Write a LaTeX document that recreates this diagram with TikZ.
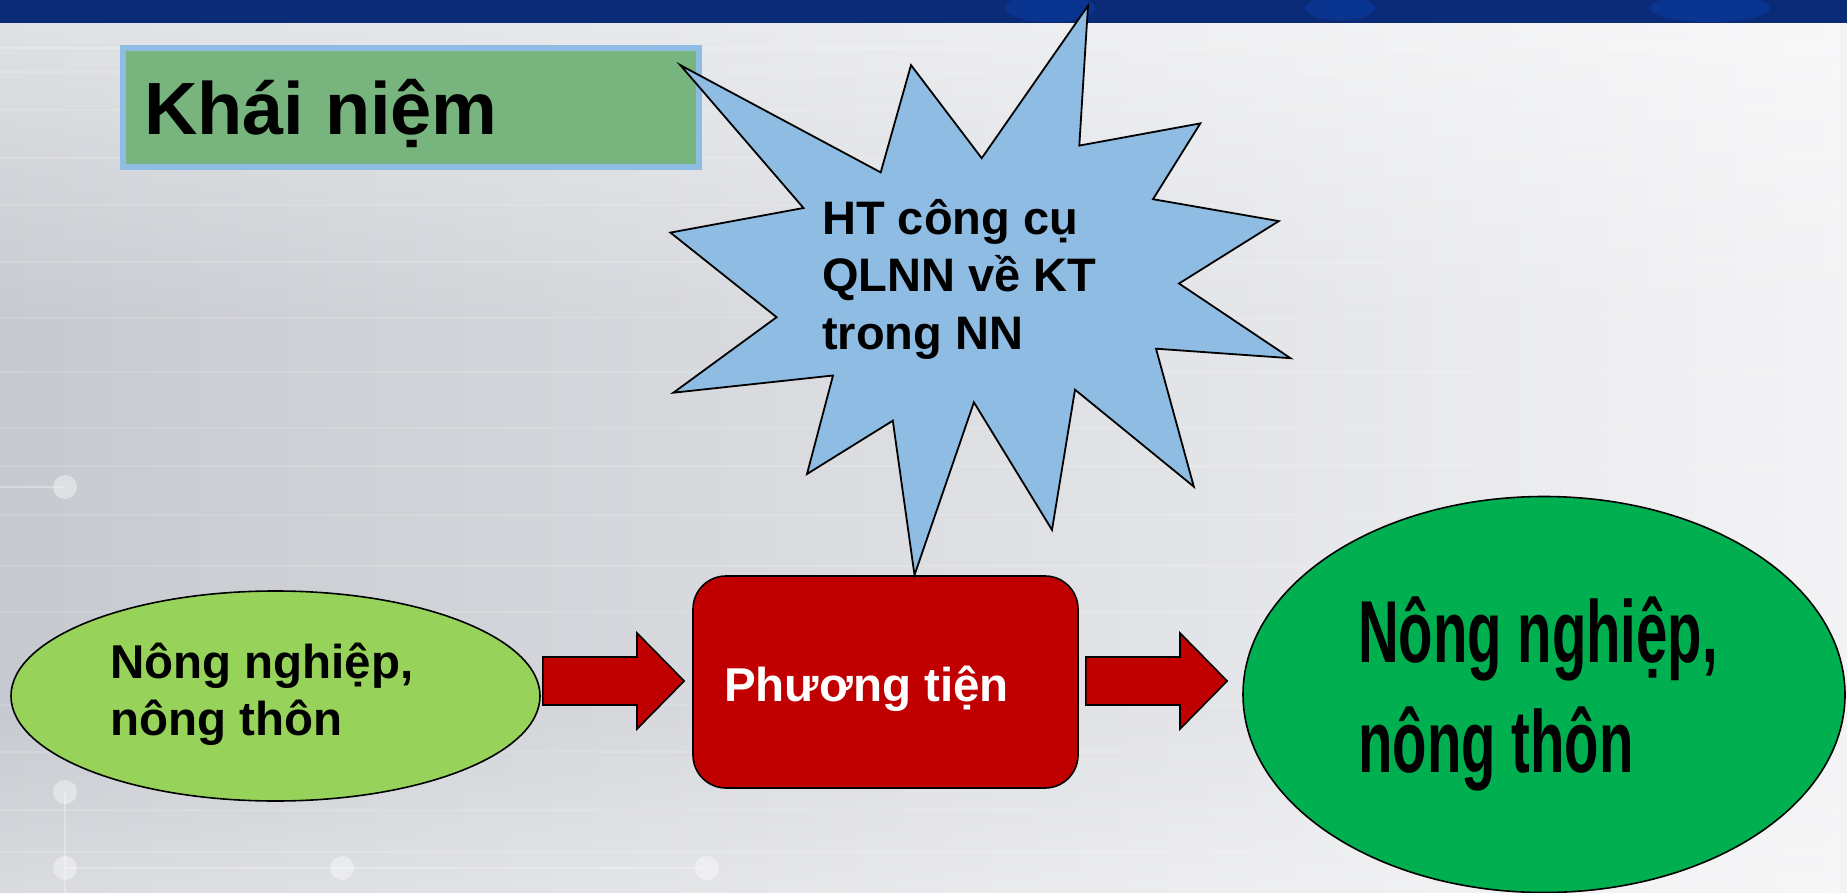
\documentclass[tikz,border=0pt]{standalone}
\usepackage{fontspec}
\setmainfont{Liberation Sans}
\newfontfamily\narrowfont{Liberation Sans}[FakeStretch=0.64]
\usetikzlibrary{shapes.geometric,calc,fadings}
\definecolor{bannerblue}{HTML}{0B2A78}
\definecolor{bgleft}{HTML}{C6C9CF}
\definecolor{bgright}{HTML}{F3F3F5}
\definecolor{starblue}{HTML}{8EBCE2}
\definecolor{titlegreen}{HTML}{78B57E}
\definecolor{titleborder}{HTML}{8EBDE3}
\definecolor{lightgreen}{HTML}{97D35A}
\definecolor{darkgreen}{HTML}{00B050}
\definecolor{boxred}{HTML}{C00000}
\tikzset{
  outline/.style={draw=black, line width=1.6pt},
  blockarrow/.style={outline, fill=boxred, line join=miter},
  txt/.style={inner sep=0pt, anchor=base west, align=left, text=black},
}
\begin{document}
\begin{tikzpicture}[x=1pt, y=-1pt]
\useasboundingbox (0,0) rectangle (1847,893);
% background
\shade[left color=bgleft, right color=bgright] (0,0) rectangle (1847,893);
\fill[white, opacity=0.45, path fading=south] (0,23) rectangle (1847,330);
\fill[white, opacity=0.35, path fading=north] (0,700) rectangle (1847,893);
\foreach \yy/\op in {48/0.2,72/0.15,110/0.12,158/0.15,205/0.12,262/0.15,318/0.12,372/0.15,428/0.12,466/0.15,515/0.12,566/0.15,612/0.12,705/0.12,752/0.15,810/0.12,852/0.15}{
  \draw[white, opacity=\op, line width=2pt] (0,\yy) -- (1847,\yy);
}
% faint decorative dots
\draw[white, opacity=0.3, line width=2pt] (0,487) -- (65,487);
\draw[white, opacity=0.3, line width=2pt] (65,792) -- (65,893);
\draw[white, opacity=0.25, line width=2pt] (65,868) -- (707,868);
\foreach \px/\py in {65/487,65/792,65/868,342/868,707/868}{
  \fill[white, opacity=0.4] (\px,\py) circle (12);
}
% top banner
\fill[bannerblue] (0,0) rectangle (1847,23);
\fill[blue!60!cyan, opacity=0.18] (1050,8) ellipse (45 and 14);
\fill[blue!60!cyan, opacity=0.18] (1340,8) ellipse (35 and 12);
\fill[blue!60!cyan, opacity=0.18] (1710,8) ellipse (60 and 14);

% title box
\node[draw=titleborder, line width=6pt, fill=titlegreen, minimum width=576pt, minimum height=119pt, inner sep=0pt] (title) at (411,107.5) {};
\node[txt, font=\fontsize{74}{88}\selectfont\bfseries] (titletext) at (144,135) {Khái niệm};

% left ellipse
\node[ellipse, outline, fill=lightgreen, minimum width=529pt, minimum height=210pt, inner sep=0pt] (left) at (275.5,696) {};
\node[txt, font=\fontsize{47.5}{57}\selectfont\bfseries] (lefttext) at (110,735) {Nông nghiệp,\\nông thôn};

% red rectangle
\node[rectangle, rounded corners=33pt, outline, fill=boxred, minimum width=385pt, minimum height=212pt, inner sep=0pt] (tool) at (885.5,682) {};
\node[txt, text=white, font=\fontsize{47.5}{57}\selectfont\bfseries] (tooltext) at (724,701) {Phương tiện};

% right ellipse
\node[ellipse, outline, fill=darkgreen, minimum width=602pt, minimum height=396pt, inner sep=0pt] (right) at (1544,694.5) {};
\node[txt, font=\narrowfont\fontsize{88}{110}\selectfont\bfseries] (righttext) at (1358,772) {Nông nghiệp,\\nông thôn};

% block arrows
\coordinate (a1s) at ([xshift=2pt]left.east |- 0,681);
\coordinate (a1e) at ([xshift=-8pt]tool.west |- 0,681);
\path[blockarrow] ($(a1s)+(0,-24)$) -- (637,657) -- (637,633) -- (a1e) -- (637,729) -- (637,705) -- ($(a1s)+(0,24)$) -- cycle;
\coordinate (a2s) at ([xshift=7pt]tool.east |- 0,681);
\coordinate (a2e) at ([xshift=-15pt]right.west |- 0,681);
\path[blockarrow] ($(a2s)+(0,-24)$) -- (1180,657) -- (1180,633) -- (a2e) -- (1180,729) -- (1180,705) -- ($(a2s)+(0,24)$) -- cycle;

% star
\draw[outline, line width=1.8pt, fill=starblue, line join=miter, miter limit=20]
  (680.3,65.1) -- (880.7,172.4) -- (911.0,65.1) -- (981.7,158.2) -- (1088.0,5.7)
  -- (1079.3,145.6) -- (1200.3,123.4) -- (1153.0,199.2) -- (1278.8,221.1)
  -- (1179.0,283.5) -- (1290.5,358.2) -- (1156.0,348.7) -- (1193.8,486.6)
  -- (1075.0,389.7) -- (1052.0,529.9) -- (973.9,402.3) -- (914.5,575)
  -- (892.8,420.7) -- (807.0,474.0) -- (833.0,375.5) -- (673.4,392.7)
  -- (776.6,317.2) -- (670.4,232.6) -- (803.5,208.0) -- cycle;
\node[txt, font=\fontsize{47}{57.5}\selectfont\bfseries] (startext) at (822,349) {HT công cụ\\QLNN về KT\\trong NN};
\end{tikzpicture}
\end{document}
